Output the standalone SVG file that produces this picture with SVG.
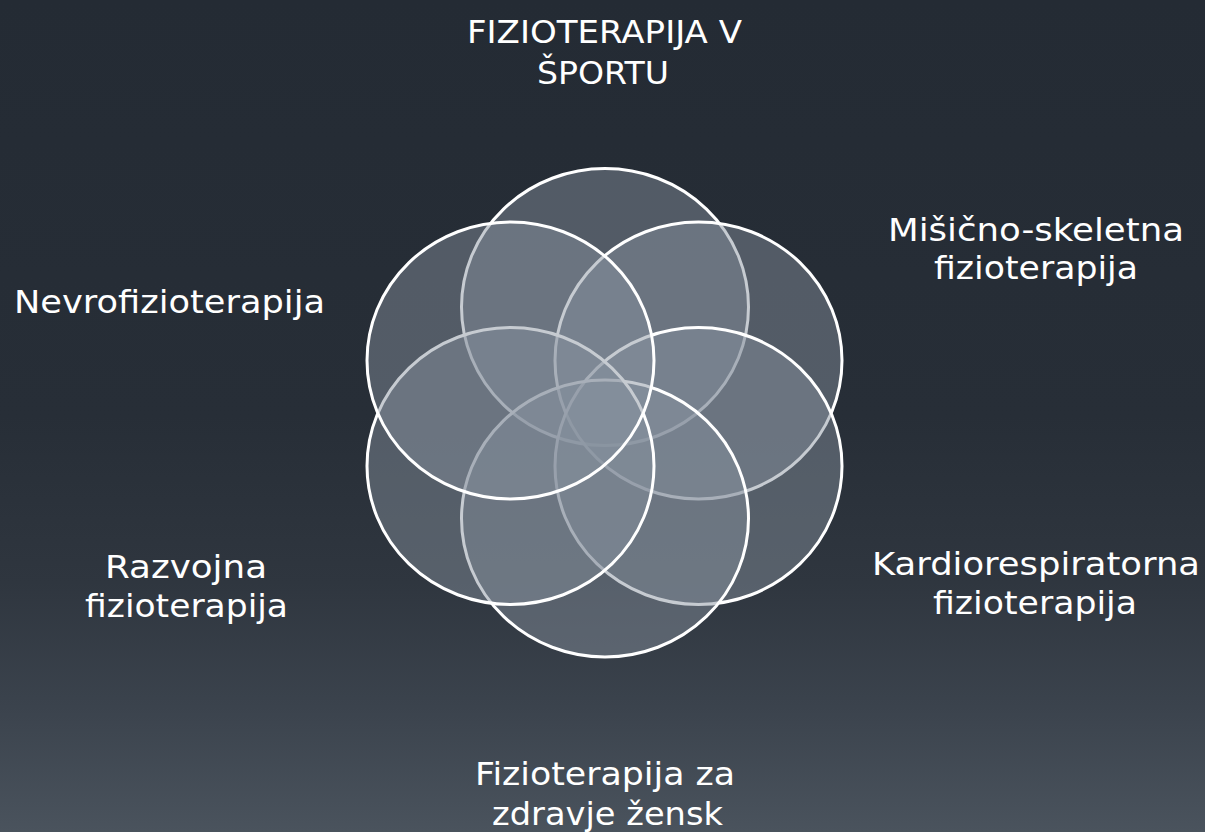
<svg xmlns="http://www.w3.org/2000/svg" width="1205" height="832" viewBox="0 0 1205 832">
  <defs>
    <linearGradient id="bg" x1="0" y1="0" x2="0" y2="1">
      <stop offset="0" stop-color="#242b34"/>
      <stop offset="0.5" stop-color="#272e37"/>
      <stop offset="0.7" stop-color="#2f363f"/>
      <stop offset="0.85" stop-color="#3b434d"/>
      <stop offset="1" stop-color="#4a535d"/>
    </linearGradient>
    <style>
      .c { fill: #85909d; fill-opacity: 0.47; stroke: #ffffff; stroke-width: 3; }
      .t { font-family: "DejaVu Sans", "Liberation Sans", sans-serif; font-size: 32px; fill: #ffffff; }
    </style>
  </defs>
  <rect width="1205" height="832" fill="url(#bg)"/>
  <g id="connectors"/>
  <g id="node-sport">
    <ellipse class="c" cx="605" cy="307" rx="143.5" ry="138.5"/>
    <text class="t" x="467" y="43" textLength="275" lengthAdjust="spacingAndGlyphs">FIZIOTERAPIJA V</text>
    <text class="t" x="537" y="84" textLength="132" lengthAdjust="spacingAndGlyphs">ŠPORTU</text>
  </g>
  <g id="node-misicno">
    <ellipse class="c" cx="698.5" cy="360.5" rx="143.5" ry="138.5"/>
    <text class="t" x="888" y="241" textLength="296" lengthAdjust="spacingAndGlyphs">Mišično-skeletna</text>
    <text class="t" x="934" y="279" textLength="204" lengthAdjust="spacingAndGlyphs">fizioterapija</text>
  </g>
  <g id="node-kardio">
    <ellipse class="c" cx="698.5" cy="466" rx="143.5" ry="138.5"/>
    <text class="t" x="872" y="575" textLength="328" lengthAdjust="spacingAndGlyphs">Kardiorespiratorna</text>
    <text class="t" x="933" y="614" textLength="204" lengthAdjust="spacingAndGlyphs">fizioterapija</text>
  </g>
  <g id="node-zenske">
    <ellipse class="c" cx="605" cy="518.5" rx="143.5" ry="138.5"/>
    <text class="t" x="475" y="785" textLength="260" lengthAdjust="spacingAndGlyphs">Fizioterapija za</text>
    <text class="t" x="492" y="825" textLength="231" lengthAdjust="spacingAndGlyphs">zdravje žensk</text>
  </g>
  <g id="node-razvojna">
    <ellipse class="c" cx="510.5" cy="466" rx="143.5" ry="138.5"/>
    <text class="t" x="105" y="578" textLength="162" lengthAdjust="spacingAndGlyphs">Razvojna</text>
    <text class="t" x="85" y="617" textLength="203" lengthAdjust="spacingAndGlyphs">fizioterapija</text>
  </g>
  <g id="node-nevro">
    <ellipse class="c" cx="510.5" cy="360.5" rx="143.5" ry="138.5"/>
    <text class="t" x="14" y="313" textLength="311" lengthAdjust="spacingAndGlyphs">Nevrofizioterapija</text>
  </g>
</svg>
